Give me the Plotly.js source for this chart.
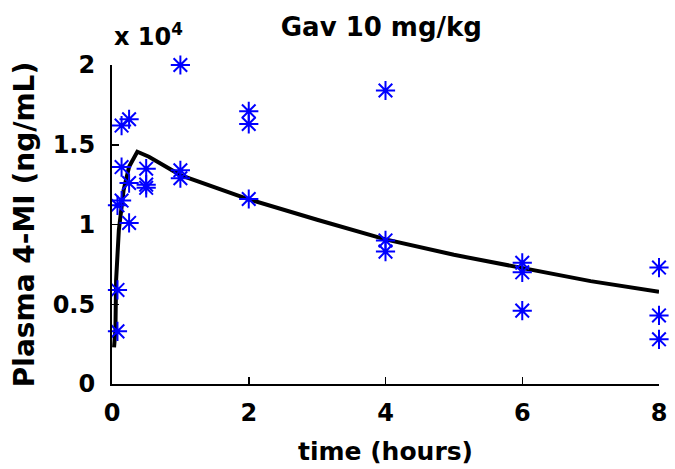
<!DOCTYPE html>
<html>
<head>
<meta charset="utf-8">
<script src="https://cdn.plot.ly/plotly-3.0.1.min.js"></script>
<style>html,body{margin:0;padding:0;background:#fff;}#chart{width:675px;height:469px;}</style>
</head>
<body>
<div id="chart"></div>
<script>
// Observed plasma concentrations (ng/mL) at sampling times (hours)
var obsTime = [0.08,0.08,0.08, 0.14,0.14,0.14, 0.25,0.25,0.25, 0.5,0.5,0.5, 1,1,1, 2,2,2, 4,4,4, 6,6,6, 8,8,8];
var obsConc = [3300,5900,11200, 16200,13600,11500, 16600,12600,10100, 13500,12500,12300, 20000,13400,12900, 17100,16300,11600, 18400,9000,8300, 7600,7000,4600, 7300,4300,2800];

// Model fit curve
var fitTime = [0.03,0.05,0.06,0.1,0.17,0.25,0.37,0.54,1,2,3,4,5,6,7,8];
var fitConc = [2300,3400,6500,9650,12160,13620,14560,14250,13100,11580,10300,9070,8100,7250,6450,5790];

// Tick labels
var xTickVals = [0,2,4,6,8];
var xTickText = ['0','2','4','6','8'];
var yTickVals = [0,5000,10000,15000,20000];
var yTickText = ['0','0.5','1','1.5','2'];

var fontFam = 'DejaVu Sans, Arial, sans-serif';

var traces = [
  {
    x: fitTime, y: fitConc, type: 'scatter', mode: 'lines',
    line: {color: '#000000', width: 4},
    cliponaxis: false, hoverinfo: 'skip', showlegend: false
  },
  {
    x: obsTime, y: obsConc, type: 'scatter', mode: 'markers',
    marker: {symbol: 'asterisk-open', size: 16, color: '#0000ff',
             line: {color: '#0000ff', width: 2}},
    cliponaxis: false, showlegend: false
  }
];

var layout = {
  width: 675, height: 469,
  margin: {l: 111.5, r: 16, t: 65, b: 85, pad: 0},
  paper_bgcolor: '#ffffff', plot_bgcolor: '#ffffff',
  showlegend: false,
  font: {family: fontFam, color: '#000000', weight: 'bold'},
  title: {
    text: 'Gav 10 mg/kg',
    font: {family: fontFam, size: 26, color: '#000000', weight: 'bold'},
    xref: 'container', x: 0.565, xanchor: 'center',
    yref: 'container', y: 1 - 27/469, yanchor: 'middle'
  },
  xaxis: {
    range: [0, 8], tickvals: xTickVals, ticktext: xTickText,
    showgrid: false, zeroline: false,
    showline: true, linecolor: '#000000', linewidth: 2,
    ticks: 'inside', ticklen: 7, tickwidth: 1.5, tickcolor: '#000000',
    ticklabelstandoff: 6,
    tickfont: {family: fontFam, size: 24, color: '#000000', weight: 'bold'},
    title: {text: 'time (hours)', standoff: 17,
            font: {family: fontFam, size: 25, color: '#000000', weight: 'bold'}}
  },
  yaxis: {
    range: [0, 20000], tickvals: yTickVals, ticktext: yTickText,
    showgrid: false, zeroline: false,
    showline: true, linecolor: '#000000', linewidth: 2,
    ticks: 'inside', ticklen: 7, tickwidth: 1.5, tickcolor: '#000000',
    ticklabelstandoff: 10,
    tickfont: {family: fontFam, size: 24, color: '#000000', weight: 'bold'},
    title: {text: 'Plasma 4-MI (ng/mL)', standoff: 10,
            font: {family: fontFam, size: 28, color: '#000000', weight: 'bold'}}
  },
  annotations: [
    {
      text: 'x 10<sup>4</sup>', xref: 'paper', yref: 'paper',
      x: 0, y: 1, xanchor: 'left', yanchor: 'bottom', xshift: 0, yshift: 12,
      showarrow: false,
      font: {family: fontFam, size: 24, color: '#000000', weight: 'bold'}
    }
  ]
};

Plotly.newPlot('chart', traces, layout, {staticPlot: true, displayModeBar: false});
</script>
</body>
</html>
